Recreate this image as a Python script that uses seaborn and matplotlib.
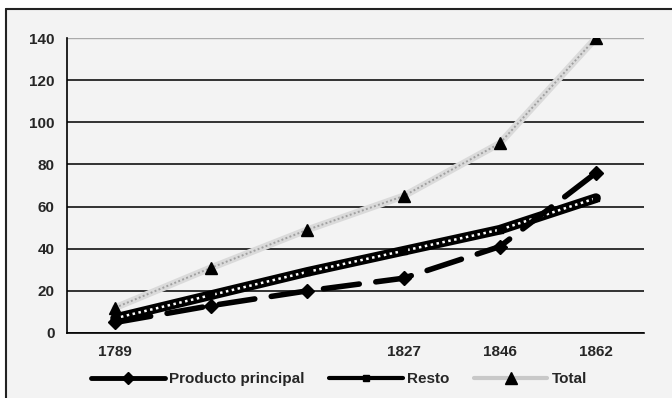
import matplotlib
matplotlib.use("Agg")
import matplotlib.pyplot as plt
import matplotlib.patches as mpatches
from matplotlib.lines import Line2D
import seaborn as sns
import pandas as pd

years = ["1789", "", "", "1827", "1846", "1862"]
producto_principal = [5, 13, 20, 26, 41, 76]
resto = [7, 18, 29, 39, 49, 64]
total = [12, 31, 49, 65, 90, 140]
y_ticks = [0, 20, 40, 60, 80, 100, 120, 140]

BG = "#f3f3f3"
sns.set_style("white", {"axes.facecolor": BG, "figure.facecolor": "white"})
plt.rcParams["font.family"] = ["Liberation Sans", "DejaVu Sans"]
plt.rcParams["font.weight"] = "bold"

pos = list(range(len(years)))
df = pd.DataFrame({"pos": pos, "Producto principal": producto_principal,
                   "Resto": resto, "Total": total})

fig = plt.figure(figsize=(6.72, 3.98), dpi=100)
# chart panel: grey fill with a dark frame on its left and top edges
fig.patches.append(mpatches.Rectangle((6 / 672, 0), 1, (398 - 9) / 398,
                                      transform=fig.transFigure, facecolor=BG,
                                      edgecolor="none", zorder=-5))
fig.add_artist(Line2D([6 / 672, 6 / 672], [0, (398 - 9) / 398], transform=fig.transFigure,
                      color="#222222", lw=1.5, zorder=-4))
fig.add_artist(Line2D([6 / 672, 1], [(398 - 9) / 398] * 2, transform=fig.transFigure,
                      color="#222222", lw=1.5, zorder=-4))

ax = fig.add_axes([67 / 672, (398 - 333) / 398, (644 - 67) / 672, (333 - 38) / 398])
ax.set_facecolor(BG)

# Total: light hatched band
sns.lineplot(data=df, x="pos", y="Total", ax=ax, color="#dadada", lw=5, zorder=3)
ax.plot(pos, total, color="#a0a0a0", lw=1.4, ls=(0, (1, 1.2)), zorder=3.1)
ax.plot(pos, total, ls="none", marker="^", ms=9, color="black", zorder=5)

# Resto: thick black line with white dots
sns.lineplot(data=df, x="pos", y="Resto", ax=ax, color="black", lw=7, zorder=3.5)
ax.plot(pos, resto, color="white", lw=1.8, ls=(0, (1, 1.4)), zorder=3.6)
ax.plot(pos, resto, ls="none", marker="s", ms=5, color="black", zorder=5)

# Producto principal: long black dashes with diamonds
sns.lineplot(data=df, x="pos", y="Producto principal", ax=ax, color="black", lw=4,
             zorder=4)
ax.lines[-1].set_linestyle((0, (6.5, 3)))
ax.lines[-1].set_dash_capstyle("round")
ax.plot(pos, producto_principal, ls="none", marker="D", ms=7, color="black", zorder=5)

ax.set_xlim(-0.5, len(years) - 0.5)
ax.set_ylim(0, 140)
ax.set_yticks(y_ticks)
ax.set_xticks(pos)
ax.set_xticklabels(years)
ax.set_xticks([p - 0.5 for p in pos] + [len(years) - 0.5], minor=True)
ax.tick_params(axis="x", which="major", length=0, pad=9, labelsize=11)
ax.tick_params(axis="x", which="minor", length=6, width=1.2, color="black")
ax.tick_params(axis="y", length=5, width=1.2, color="black", labelsize=11, pad=4)
for lbl in ax.get_xticklabels() + ax.get_yticklabels():
    lbl.set_fontweight("bold")

ax.grid(axis="y", color="#111111", lw=1.2)
ygl = ax.get_ygridlines()
ygl[-1].set_color("#aaaaaa")
ygl[-1].set_linewidth(1.0)
ax.set_axisbelow(True)

for side in ["top", "right"]:
    ax.spines[side].set_visible(False)
for side in ["left", "bottom"]:
    ax.spines[side].set_color("black")
    ax.spines[side].set_linewidth(1.2)
ax.set_xlabel("")
ax.set_ylabel("")

handles = [
    Line2D([], [], color="black", lw=3.5, marker="D", ms=6),
    Line2D([], [], color="black", lw=3, marker="s", ms=5),
    Line2D([], [], color="#c8c8c8", lw=3, marker="^", ms=8, mfc="black", mec="black"),
]
fig.legend(handles, ["Producto principal", "Resto", "Total"], loc="center",
           bbox_to_anchor=(0.505, (398 - 379) / 398), ncol=3, frameon=False,
           handlelength=4.8, handletextpad=0.3, columnspacing=1.6,
           prop={"weight": "bold", "size": 11})

fig.savefig("out.png", dpi=100, facecolor="white")
